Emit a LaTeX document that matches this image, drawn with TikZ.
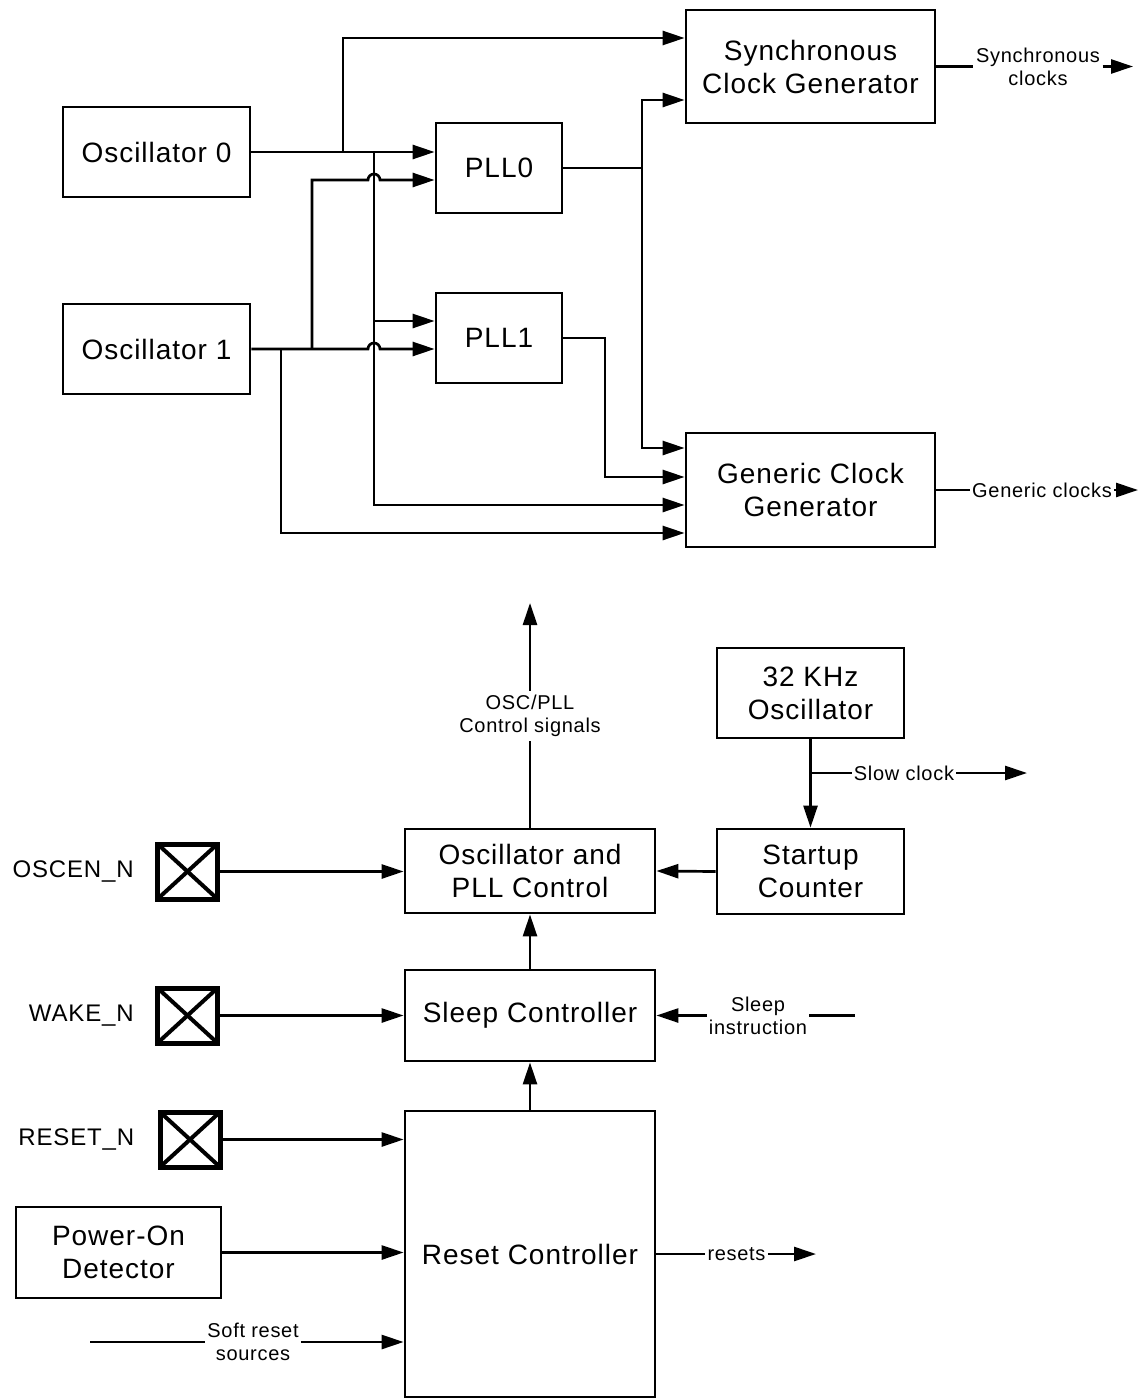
\documentclass[tikz,border=0pt]{standalone}
\usepackage{fontspec}
\setmainfont{Liberation Sans}[LetterSpace=3.5]
\usepackage{tikz}
\usetikzlibrary{arrows.meta,positioning,calc}

\newcommand{\blktxt}{\fontsize{28}{33}\selectfont}
\newcommand{\sigtxt}{\fontsize{20}{23}\selectfont}
\newcommand{\pintxt}{\fontsize{24}{28}\selectfont}

\tikzset{
  blk/.style={draw, line width=2.8pt, align=center, font=\blktxt, inner sep=0pt},
  sig/.style={align=center, font=\sigtxt, inner sep=1.5pt},
  pad/.style={draw, line width=5pt, minimum width=60pt, minimum height=55pt, inner sep=0pt,
    path picture={\draw[line width=4pt]
      (path picture bounding box.north west) -- (path picture bounding box.south east)
      (path picture bounding box.south west) -- (path picture bounding box.north east);}},
  padlbl/.style={font=\pintxt, inner sep=0pt}
}

\begin{document}
\begin{tikzpicture}[x=1pt,y=-1pt,line width=2.7pt,>={Triangle[length=22pt,width=14pt]}]
    \useasboundingbox (0,0) rectangle (1139,1399);

    % clock generation
    \node[blk, minimum width=187pt, minimum height=90pt] (osc0) at (156.5,152) {Oscillator 0};
    \node[blk, minimum width=187pt, minimum height=90pt] (osc1) at (156.5,349) {Oscillator 1};
    \node[blk, minimum width=126pt, minimum height=90pt] (pll0) at (499,168) {PLL0};
    \node[blk, minimum width=126pt, minimum height=90pt] (pll1) at (499,338) {PLL1};
    \node[blk, minimum width=249pt, minimum height=113pt] (scg) at (810.5,66.5) {Synchronous\\Clock Generator};
    \node[blk, minimum width=249pt, minimum height=114pt] (gcg) at (810.5,490) {Generic Clock\\Generator};

    \coordinate (j0a) at (343,152);
    \coordinate (j0b) at (374,152);
    \coordinate (j1a) at (281,349);
    \coordinate (j1b) at (312,349);
    \coordinate (hop0) at (374,180);
    \coordinate (hop1) at (374,349);
    \coordinate (jp0) at (642,168);
    \coordinate (jp1) at (605,338);

    \draw (osc0.east) -- (j0b);
    \draw[->] (j0b) -- (pll0.west |- j0b);
    \draw[->] (j0a) |- ([yshift=28.5pt]scg.west);
    \draw[->] (j0b) |- ([yshift=-15pt]gcg.west);
    \draw[->] ([yshift=17pt]pll1.west -| j0b) -- ([yshift=17pt]pll1.west);

    \draw[->] (osc1.east) -- ([xshift=-6pt]hop1) arc[start angle=180,end angle=0,radius=6pt] -- (pll1.west |- hop1);
    \draw[->] (j1b) |- ([xshift=-6pt]hop0) arc[start angle=180,end angle=0,radius=6pt] -- (pll0.west |- hop0);
    \draw[->] (j1a) |- ([yshift=-43pt]gcg.west);

    \draw (pll0.east) -- (jp0);
    \draw[->] (jp0) |- ([yshift=-33.5pt]scg.west);
    \draw[->] (jp0) |- ([yshift=42pt]gcg.west);
    \draw[->] (pll1.east) -- (jp1) |- ([yshift=13pt]gcg.west);

    \node[sig] (synlbl) at (1038,66.5) {Synchronous\\clocks};
    \coordinate (synout) at (1133,66.5);
    \draw (scg.east) -- (synlbl.west);
    \draw[->] (synlbl.east) -- (synout);

    \node[sig, inner sep=1pt] (gcglbl) at (1042,490) {Generic clocks};
    \coordinate (gcgout) at (1138,490);
    \draw (gcg.east) -- (gcglbl.west);
    \draw[->] (gcglbl.east) -- (gcgout);

    % power manager
    \node[blk, minimum width=187pt, minimum height=90pt] (k32) at (810.5,693) {32 KHz\\Oscillator};
    \node[blk, minimum width=187pt, minimum height=85pt] (startup) at (810.5,871.5) {Startup\\Counter};
    \node[blk, minimum width=250pt, minimum height=84pt] (oscpll) at (530,871) {Oscillator and\\PLL Control};
    \node[blk, minimum width=250pt, minimum height=91pt] (sleep) at (530,1015.5) {Sleep Controller};
    \node[blk, minimum width=250pt, minimum height=286pt] (reset) at (530,1254) {Reset Controller};
    \node[blk, minimum width=205pt, minimum height=91pt] (por) at (118.5,1252.5) {Power-On\\Detector};

    \node[pad] (oscenpin) at (187.5,871.5) {};
    \node[pad] (wakepin) at (187.5,1015.5) {};
    \node[pad] (rstpin) at (190,1139.5) {};
    \node[padlbl, left=20pt of oscenpin] (oscenlbl) {OSCEN\_N};
    \node[padlbl, left=20pt of wakepin] (wakelbl) {WAKE\_N};
    \node[padlbl, left=22pt of rstpin] (rstpinlbl) {RESET\_N};

    \draw[->] (oscenpin.east) -- (oscenpin.east -| oscpll.west);
    \draw[->] (wakepin.east) -- (wakepin.east -| sleep.west);
    \draw[->] (rstpin.east) -- (rstpin.east -| reset.west);
    \draw[->] (por.east) -- (por.east -| reset.west);

    \draw[->] (reset.north) -- (sleep.south);
    \draw[->] (sleep.north) -- (oscpll.south);
    \draw[->] (startup.west) -- (oscpll.east);
    \draw[->] (k32.south) -- (startup.north);

    \node[sig, inner sep=3pt] (ctllbl) at (530,716) {OSC/PLL\\Control signals};
    \coordinate (ctlout) at (530,603);
    \draw (oscpll.north) -- (ctllbl.south);
    \draw[->] (ctllbl.north) -- (ctlout);

    \node[sig, inner sep=1pt] (slowlbl) at (904,773) {Slow clock};
    \coordinate (slowout) at (1027,773);
    \draw (k32.south |- slowlbl) -- (slowlbl.west);
    \draw[->] (slowlbl.east) -- (slowout);

    \node[sig, inner sep=1pt] (sleeplbl) at (758,1015.5) {Sleep\\instruction};
    \coordinate (sleepin) at (855,1015.5);
    \draw (sleepin) -- (sleeplbl.east);
    \draw[->] (sleeplbl.west) -- (sleep.east);

    \node[sig, inner sep=1pt] (softlbl) at (253,1342) {Soft reset\\sources};
    \coordinate (softin) at (90,1342);
    \draw (softin) -- (softlbl.west);
    \draw[->] (softlbl.east) -- (softlbl.east -| reset.west);

    \node[sig, inner sep=1pt] (rstlbl) at (736.5,1254) {resets};
    \coordinate (rstout) at (816,1254);
    \draw (reset.east) -- (rstlbl.west);
    \draw[->] (rstlbl.east) -- (rstout);
\end{tikzpicture}
\end{document}
